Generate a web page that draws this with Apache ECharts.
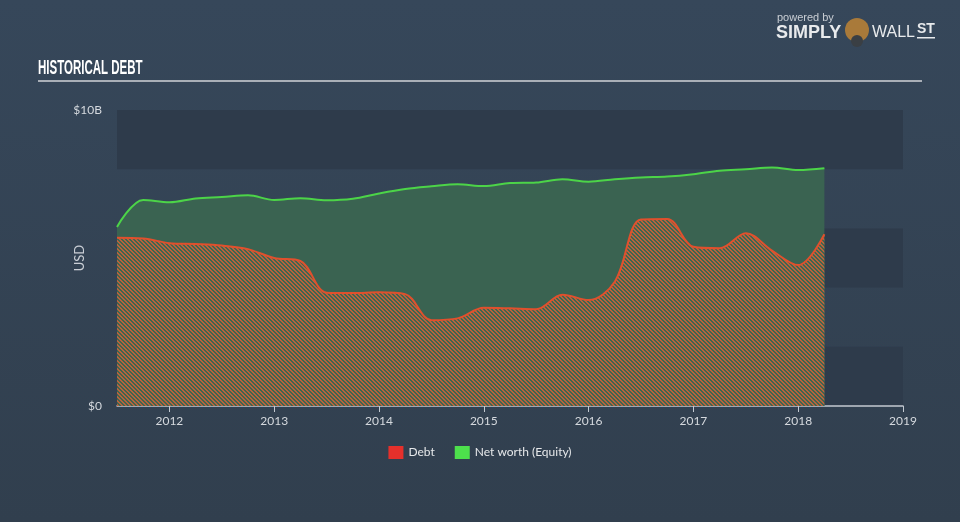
<!DOCTYPE html>
<html><head><meta charset="utf-8">
<script src="https://cdn.jsdelivr.net/npm/echarts@6/dist/echarts.min.js"></script>
<style>html,body{margin:0;padding:0;background:#344456;}#c{width:960px;height:522px;}</style>
</head><body><div id="c"></div>
<script>
// Quarterly dates (decimal years)
const dates = [2011.5,2011.75,2012.0,2012.25,2012.5,2012.75,2013.0,2013.25,2013.5,2013.75,2014.0,2014.25,2014.5,2014.75,2015.0,2015.25,2015.5,2015.75,2016.0,2016.25,2016.5,2016.75,2017.0,2017.25,2017.5,2017.75,2018.0,2018.25];
// Debt, USD billions
const debtB = [5.68,5.66,5.5,5.47,5.42,5.3,5.0,4.9,3.83,3.82,3.84,3.78,2.9,2.96,3.32,3.3,3.27,3.76,3.58,4.2,6.3,6.32,5.38,5.33,5.84,5.25,4.76,5.8];
// Net worth (Equity), USD billions
const equityB = [6.05,6.96,6.88,7.01,7.06,7.12,6.96,7.02,6.95,7.0,7.18,7.33,7.42,7.49,7.43,7.53,7.55,7.66,7.58,7.66,7.72,7.75,7.83,7.95,8.0,8.06,7.97,8.03];
const yearTicks = [2012,2013,2014,2015,2016,2017,2018,2019];
const seriesNames = ['Debt','Net worth (Equity)'];

function stripes(){
  const c=document.createElement('canvas');c.width=4;c.height=4;
  const ctx=c.getContext('2d');const img=ctx.createImageData(4,4);
  for(let y=0;y<4;y++)for(let x=0;x<4;x++){
    const i=(y*4+x)*4;const o=((x-y)%4+4)%4<2;
    const col=o?[184,98,60]:[63,102,80];
    img.data[i]=col[0];img.data[i+1]=col[1];img.data[i+2]=col[2];img.data[i+3]=255;
  }
  ctx.putImageData(img,0,0);return c;
}
const chart=echarts.init(document.getElementById('c'),null,{renderer:'canvas'});
const font='Lato';
chart.setOption({
  backgroundColor:{type:'linear',x:0,y:0,x2:0,y2:1,colorStops:[{offset:0,color:'#36475a'},{offset:1,color:'#313f4e'}]},
  animation:false,
  textStyle:{fontFamily:font},
  grid:{left:117,right:57,top:110,bottom:116},
  legend:{bottom:58,left:'center',itemWidth:15,itemHeight:13,itemGap:20,icon:'rect',
    textStyle:{color:'#e6e8ea',fontSize:12,fontFamily:font},data:seriesNames},
  xAxis:{type:'value',min:2011.5,max:2019,
    axisLine:{lineStyle:{color:'#c3c9d1',width:1.5}},
    axisTick:{customValues:yearTicks,length:6,lineStyle:{color:'#c3c9d1'}},
    axisLabel:{customValues:yearTicks,color:'#d5d9de',fontSize:12,margin:9,formatter:v=>String(Math.round(v))},
    splitLine:{show:false}},
  yAxis:{type:'value',min:0,max:10,interval:2,
    axisLine:{show:false},axisTick:{show:false},
    axisLabel:{color:'#d5d9de',fontSize:12,margin:15,formatter:v=>v===0?'$0':(v===10?'$10B':'')},
    splitLine:{show:false},
    splitArea:{show:true,areaStyle:{color:['#2e3b4b','rgba(0,0,0,0)']}}},
  series:[
    {name:seriesNames[1],type:'line',smooth:0.35,symbol:'none',z:2,
      itemStyle:{color:'#4de04c'},lineStyle:{color:'#4cd448',width:2},
      areaStyle:{color:'#3a6351',opacity:1},
      data:dates.map((d,i)=>[d,equityB[i]])},
    {name:seriesNames[0],type:'line',smooth:0.35,symbol:'none',z:3,
      itemStyle:{color:'#e5302b'},lineStyle:{color:'#e0502d',width:2},
      areaStyle:{color:{image:stripes(),repeat:'repeat'},opacity:1},
      data:dates.map((d,i)=>[d,debtB[i]])}
  ],
  graphic:[
    {type:'text',x:80,y:258,rotation:Math.PI/2,style:{text:'USD',fill:'#c9ced5',font:'13px Lato, sans-serif',align:'center',verticalAlign:'middle'}},
    {type:'text',x:38,y:58,scaleX:0.575,style:{text:'HISTORICAL DEBT',fill:'#ffffff',font:'bold 20px "Liberation Sans", sans-serif'}},
    {type:'rect',shape:{x:38,y:80,width:884,height:2},style:{fill:'#a9afb7'}},
    {type:'text',left:777,top:12,style:{text:'powered by',fill:'#c9ced4',font:'11px "Liberation Sans", sans-serif'}},
    {type:'text',left:776,top:24,style:{text:'SIMPLY',fill:'#e8eaec',font:'bold 18px "Liberation Sans", sans-serif'}},
    {type:'circle',shape:{cx:857,cy:30,r:12},style:{fill:'#a97a3a'}},
    {type:'circle',shape:{cx:857,cy:41,r:6},style:{fill:'#3a3f44'}},
    {type:'text',left:872,top:25,style:{text:'WALL',fill:'#e8eaec',font:'16px "Liberation Sans", sans-serif'}},
    {type:'text',left:917,top:22,style:{text:'ST',fill:'#e8eaec',font:'bold 14px "Liberation Sans", sans-serif'}},
    {type:'rect',shape:{x:917,y:37,width:18,height:1.5},style:{fill:'#e8eaec'}}
  ]
});
</script></body></html>
